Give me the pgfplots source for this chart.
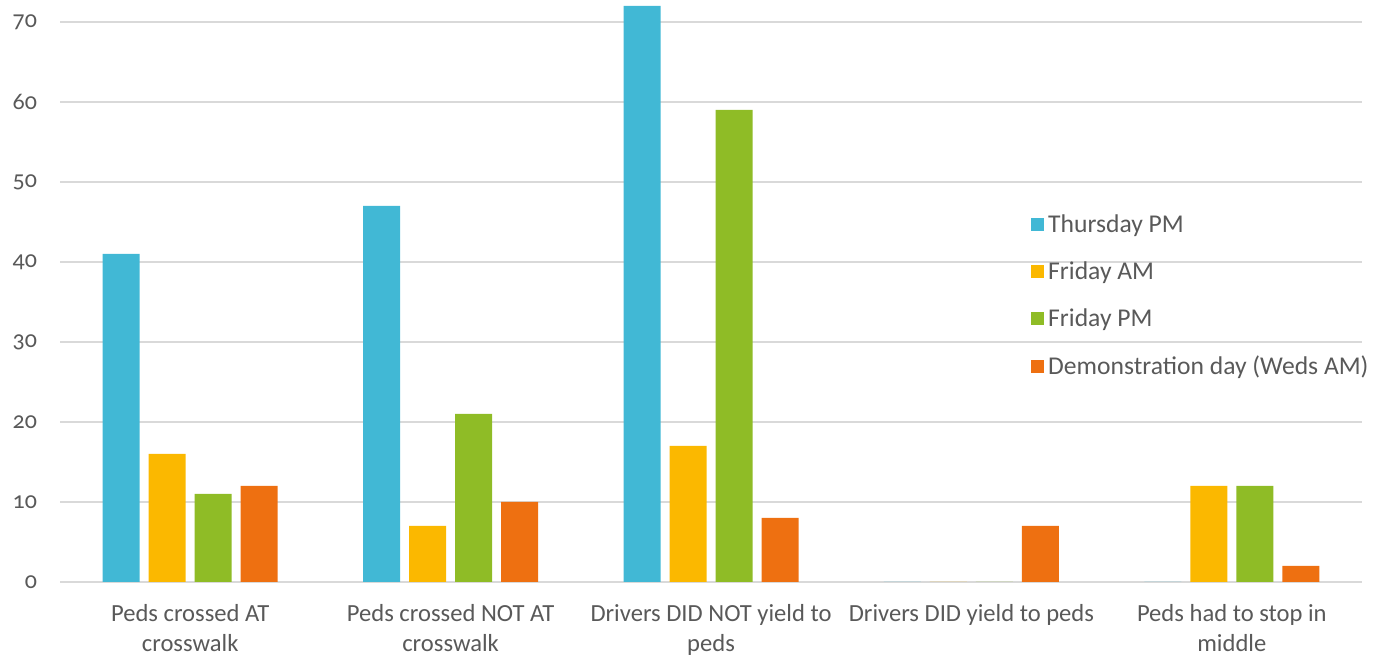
\documentclass[border=0pt]{standalone}
\usepackage{pgfplots}
\pgfplotsset{compat=1.18}
\usepackage{fontspec}
\setmainfont{Carlito}[Numbers=OldStyle]

\definecolor{cThu}{HTML}{41B8D5}
\definecolor{cFriAM}{HTML}{FBB800}
\definecolor{cFriPM}{HTML}{8FBC26}
\definecolor{cDemo}{HTML}{EE7011}
\definecolor{txt}{HTML}{595959}
\definecolor{grd}{HTML}{D9D9D9}

\begin{document}
\begin{tikzpicture}
\begin{axis}[
    scale only axis,
    width=651pt, height=290pt,
    ybar=4.5pt, bar width=18.5pt,
    xmin=-0.5, xmax=4.5,
    ymin=0, ymax=72.5,
    ytick={0,10,...,70},
    xtick=data,
    xticklabels={{Peds crossed AT\\crosswalk},{Peds crossed NOT AT\\crosswalk},{Drivers DID NOT yield to\\peds},{Drivers DID yield to peds},{Peds had to stop in\\middle}},
    xticklabel style={align=center, font=\fontsize{12.3}{15}\selectfont, text=txt, yshift=-7.5pt},
    yticklabel style={font=\fontsize{12}{13}\selectfont, text=txt, xshift=-8pt},
    /pgf/number format/assume math mode=true,
    major tick length=0pt,
    axis x line*=bottom,
    axis y line*=left,
    y axis line style={draw=none},
    x axis line style={grd, line width=1pt, -},
    ymajorgrids,
    grid style={grd, line width=0.8pt},
    axis line style={-},
    clip=false,
    legend cell align=left,
    legend style={draw=none, fill=none, at={(0.741,0.648)}, anchor=north west,
        font=\fontsize{12.8}{14}\selectfont, text=txt, row sep=9.1pt,
        /tikz/every even column/.append style={column sep=2pt}},
    legend image code/.code={\fill[#1] (0pt,-3.25pt) rectangle (6.5pt,3.25pt);},
]
\addplot[fill=cThu, draw=none] coordinates {(0,41) (1,47) (2,72) (3,0) (4,0)};
\addplot[fill=cFriAM, draw=none] coordinates {(0,16) (1,7) (2,17) (3,0) (4,12)};
\addplot[fill=cFriPM, draw=none] coordinates {(0,11) (1,21) (2,59) (3,0) (4,12)};
\addplot[fill=cDemo, draw=none] coordinates {(0,12) (1,10) (2,8) (3,7) (4,2)};
\legend{Thursday PM, Friday AM, Friday PM, Demonstration day (Weds AM)}
\path (axis description cs:-0.0461,-0.1414) rectangle (axis description cs:1.0161,1.0034);
\end{axis}
\end{tikzpicture}
\end{document}
